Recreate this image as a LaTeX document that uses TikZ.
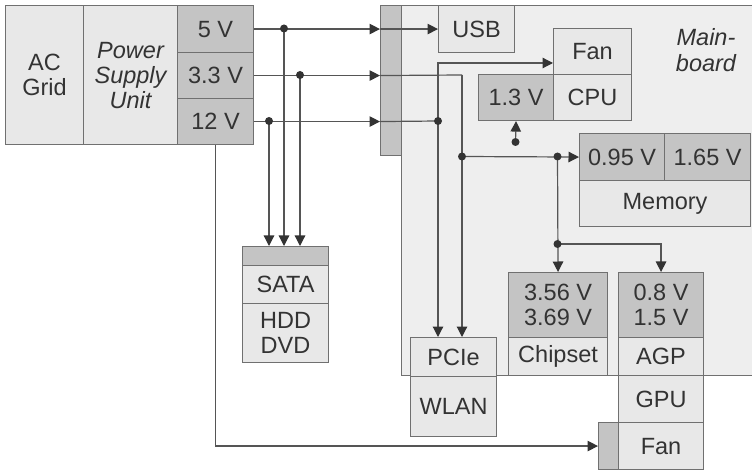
\documentclass[tikz,border=0pt]{standalone}
\usepackage{fontspec}
\setmainfont{Liberation Sans}
\usetikzlibrary{arrows.meta}
\definecolor{boxfill}{HTML}{E8E8E8}
\definecolor{boardfill}{HTML}{EEEEEE}
\definecolor{darkfill}{HTML}{C4C4C4}
\definecolor{edgecol}{HTML}{707070}
\definecolor{wirecol}{HTML}{555555}
\definecolor{txtcol}{HTML}{333333}
\begin{document}
\begin{tikzpicture}[x=1pt,y=-1pt,
  cell/.style={draw=edgecol, fill=boxfill, line width=1.1pt, inner sep=0pt, anchor=north west,
    text=txtcol, align=center, font=\fontsize{23.5}{25}\selectfont},
  dark/.style={cell, fill=darkfill},
  wire/.style={draw=wirecol, line width=1.2pt},
  arr/.style={wire, -{Triangle[length=10.5pt,width=10.5pt,fill=txtcol,color=txtcol]}},
  jdot/.style={circle, fill=txtcol, inner sep=0pt, minimum size=8pt}]
\useasboundingbox (0,0) rectangle (752,470);

% mainboard and connector strip
\node[cell, fill=boardfill, minimum width=369pt, minimum height=370pt] (board) at (401,5) {};
\node[text=txtcol, align=center, font=\fontsize{23.5}{26}\selectfont\itshape] (boardlbl) at (706,50) {Main-\\board};
\node[dark, minimum width=21pt, minimum height=150pt] (strip) at (380,5) {};

% power supply
\node[cell, minimum width=78pt, minimum height=139pt] (ac) at (5,5) {AC\\Grid};
\node[cell, minimum width=94pt, minimum height=139pt, font=\fontsize{23.5}{25}\selectfont\itshape] (psu) at (83,5) {Power\\Supply\\Unit};
\node[dark, minimum width=76pt, minimum height=47pt] (v5) at (177,5) {5 V};
\node[dark, minimum width=76pt, minimum height=46pt] (v33) at (177,52) {3.3 V};
\node[dark, minimum width=76pt, minimum height=46pt] (v12) at (177,98) {12 V};

% mainboard components
\node[cell, minimum width=76pt, minimum height=47pt] (usb) at (438,5) {USB};
\node[cell, minimum width=78pt, minimum height=46pt] (cpufan) at (553,28) {Fan};
\node[dark, minimum width=75pt, minimum height=46pt] (cpuv) at (478,74) {1.3 V};
\node[cell, minimum width=78pt, minimum height=46pt] (cpu) at (553,74) {CPU};
\node[dark, minimum width=85pt, minimum height=47pt] (memv1) at (579,133) {0.95 V};
\node[dark, minimum width=86pt, minimum height=47pt] (memv2) at (664,133) {1.65 V};
\node[cell, minimum width=171pt, minimum height=46pt] (mem) at (579,180) {Memory};
\node[dark, minimum width=99pt, minimum height=65pt] (chipv) at (508,272) {3.56 V\\3.69 V};
\node[cell, minimum width=99pt, minimum height=38pt] (chip) at (508,337) {Chipset};
\node[dark, minimum width=85pt, minimum height=65pt] (agpv) at (618,272) {0.8 V\\1.5 V};
\node[cell, minimum width=85pt, minimum height=38pt] (agp) at (618,337) {AGP};
\node[cell, minimum width=85pt, minimum height=47pt] (gpu) at (618,375) {GPU};
\node[cell, minimum width=85pt, minimum height=47pt] (gfan) at (618,422) {Fan};
\node[dark, minimum width=20pt, minimum height=47pt] (gfs) at (598,422) {};
\node[cell, minimum width=86pt, minimum height=39pt] (pcie) at (410,337) {PCIe};
\node[cell, minimum width=86pt, minimum height=60pt] (wlan) at (410,376) {WLAN};

% drives
\node[dark, minimum width=86pt, minimum height=19pt] (satas) at (242,246) {};
\node[cell, minimum width=86pt, minimum height=38pt] (sata) at (242,265) {SATA};
\node[cell, minimum width=86pt, minimum height=59pt] (hdd) at (242,303) {HDD\\DVD};

% junction points
\coordinate (j5) at (284,28.5);
\coordinate (j33) at (300,75);
\coordinate (j12a) at (269,121);
\coordinate (j12b) at (438,121);
\coordinate (c33) at (462,75);
\coordinate (jmem) at (462,156.5);
\coordinate (jchip) at (557.5,156.5);
\coordinate (jagp) at (557.5,244);
\coordinate (jcpu) at (515.5,142);
\coordinate (fanin) at (553,63);

% wires from the supply
\draw[arr] (v5.east) -- (strip.west |- v5.east);
\draw[arr] (strip.west |- usb.west) -- (usb.west);
\draw[arr] (v33.east) -- (strip.west |- v33.east);
\draw[wire] (strip.west |- v33.east) -- (c33);
\draw[arr] (c33) -- (c33 |- pcie.north);
\draw[arr] (v12.east) -- (strip.west |- v12.east);
\draw[wire] (strip.west |- v12.east) -- (j12b);
\draw[arr] (j12b) -- (j12b |- pcie.north);
\draw[arr] (j12b) -- (j12b |- fanin) -- (fanin);
\draw[arr] (j5) -- (j5 |- satas.north);
\draw[arr] (j33) -- (j33 |- satas.north);
\draw[arr] (j12a) -- (j12a |- satas.north);
\draw[arr] (v12.south) -- (v12.south |- gfs.west) -- (gfs.west);

% mainboard distribution
\draw[arr] (jmem) -- (memv1.west);
\draw[arr] (jchip) -- (chipv.north);
\draw[arr] (jagp) -- (jagp -| agpv.north) -- (agpv.north);
\draw[arr] (jcpu) -- (cpuv.south);

% dots
\node[jdot] (d5) at (j5) {};
\node[jdot] (d33) at (j33) {};
\node[jdot] (d12a) at (j12a) {};
\node[jdot] (d12b) at (j12b) {};
\node[jdot] (dmem) at (jmem) {};
\node[jdot] (dchip) at (jchip) {};
\node[jdot] (dagp) at (jagp) {};
\node[jdot] (dcpu) at (jcpu) {};
\end{tikzpicture}
\end{document}
